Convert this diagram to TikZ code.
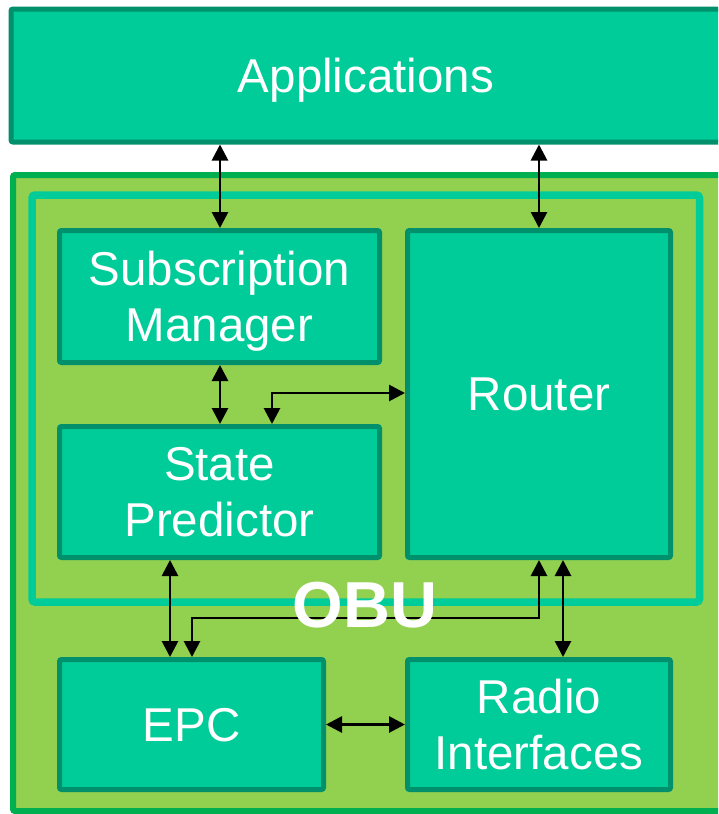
\documentclass[tikz,border=0pt]{standalone}
\usepackage{fontspec}
\setmainfont{Liberation Sans}
\usetikzlibrary{arrows.meta}
\definecolor{boxfill}{HTML}{00CC99}
\definecolor{boxline}{HTML}{00906C}
\definecolor{obufill}{HTML}{92D050}
\definecolor{obuline}{HTML}{00B050}
\tikzset{
  blk/.style={draw=boxline, fill=boxfill, line width=5pt, rounded corners=2pt,
    text=white, align=center, inner sep=0pt, text depth=0pt,
    font=\fontsize{47.5}{56}\selectfont},
  tip/.tip={Triangle[length=16pt,width=16pt]},
  dbl/.style={line width=2.8pt, tip-tip},
}
\begin{document}
\begin{tikzpicture}[x=1pt,y=-1pt]
\useasboundingbox (0,0) rectangle (718,814);
\clip (0,0) rectangle (718,814);
\fill[white] (0,0) rectangle (718,814);
% outer OBU area
\draw[draw=obuline, fill=obufill, line width=6pt, rounded corners=2pt] (13,175) rectangle (740,811);
% inner frame
\draw[draw=boxfill, line width=7.5pt, rounded corners=3pt] (32,195) rectangle (699.5,602);
% blocks
\node[blk, minimum width=710pt, minimum height=133pt] (apps) at (366,75.5) {Applications};
\node[blk, minimum width=320pt, minimum height=132pt] (sm) at (219.5,296.5) {Subscription\\Manager};
\node[blk, minimum width=263pt, minimum height=327pt] (router) at (539,394) {Router};
\node[blk, minimum width=320pt, minimum height=131pt] (sp) at (219.5,492) {State\\Predictor};
\node[blk, minimum width=264pt, minimum height=130pt] (epc) at (191.5,724.5) {EPC};
\node[blk, minimum width=263pt, minimum height=130pt] (radio) at (539,724.5) {Radio\\Interfaces};
% connectors
\draw[dbl] (apps.south -| 220,0) -- (sm.north -| 220,0);
\draw[dbl] (apps.south -| 539,0) -- (router.north -| 539,0);
\draw[dbl] (sm.south -| 220,0) -- (sp.north -| 220,0);
\draw[dbl] (sp.north -| 272,0) -- (272,393) -- (router.west |- 0,393);
\draw[dbl] (sp.south -| 170,0) -- (epc.north -| 170,0);
\draw[dbl] (router.south -| 539,0) -- (539,618) -- (192,618) -- (epc.north -| 192,0);
\draw[dbl] (router.south -| 563,0) -- (radio.north -| 563,0);
\draw[dbl] (epc.east) -- (radio.west);
% OBU label
\node[anchor=base, text=white, inner sep=0pt, font=\fontsize{65}{65}\selectfont\bfseries] (obu) at (365,627) {OBU};
\end{tikzpicture}
\end{document}
